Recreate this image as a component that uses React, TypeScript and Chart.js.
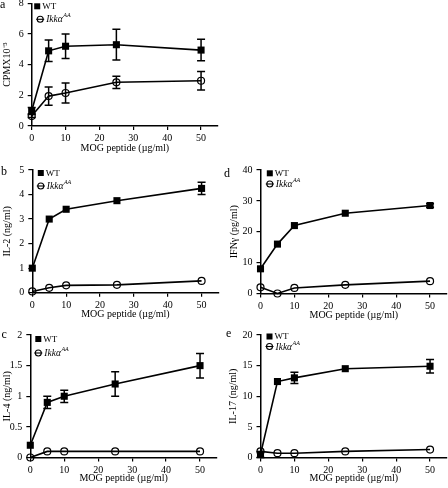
import React, { useEffect, useRef } from "react";
import { Chart, registerables } from "chart.js";

Chart.register(...registerables);

// ---------- data ----------
const doses = [0, 5, 10, 25, 50];
const xTicks = [0, 10, 20, 30, 40, 50];
const xTitle = "MOG peptide (µg/ml)";
const wtLabel = "WT";
const koLabel = "Ikkα";
const koSup = "AA";

const cpmWT = [1.0, 4.9, 5.2, 5.3, 4.95];
const cpmWTErr = [0.2, 0.7, 0.8, 1.0, 0.7];
const cpmKO = [0.65, 1.95, 2.15, 2.85, 2.95];
const cpmKOErr = [0.1, 0.6, 0.65, 0.4, 0.6];

const il2WT = [1.0, 3.0, 3.4, 3.75, 4.25];
const il2WTErr = [0, 0, 0, 0, 0.25];
const il2KO = [0.05, 0.2, 0.3, 0.32, 0.48];
const il2KOErr = [0, 0, 0, 0, 0];

const il4WT = [0.2, 0.9, 1.0, 1.2, 1.5];
const il4WTErr = [0, 0.1, 0.1, 0.2, 0.2];
const il4KO = [0, 0.1, 0.1, 0.1, 0.1];
const il4KOErr = [0, 0, 0, 0, 0];

const ifnWT = [8, 16, 22, 26, 28.5];
const ifnWTErr = [0, 0, 0, 0, 0.6];
const ifnKO = [2, 0, 1.8, 2.8, 4];
const ifnKOErr = [0, 0, 0, 0, 0];

const il17WT = [0.5, 12.4, 13, 14.5, 14.9];
const il17WTErr = [0.5, 0, 0.9, 0, 1.1];
const il17KO = [1.0, 0.7, 0.7, 1.0, 1.3];
const il17KOErr = [0, 0, 0, 0, 0];

const FONT = '"Liberation Serif", "Times New Roman", serif';

type Area = { l: number; t: number; r: number; b: number };
type PanelCfg = {
  letter: string;
  letterX: number;
  letterY: number;
  yTitle: string;
  yMax: number;
  yStep: number;
  wt: number[];
  wtErr: number[];
  ko: number[];
  koErr: number[];
  area: Area;
  yTitleX: number;
  xTitleY: number;
  legend: { sq: number; circ: number; y1: number; y2: number };
};

const panels: PanelCfg[] = [
  {
    letter: "a", letterX: 3, letterY: 5,
    yTitle: "CPMX10⁻³", yMax: 8, yStep: 2,
    wt: cpmWT, wtErr: cpmWTErr, ko: cpmKO, koErr: cpmKOErr,
    area: { l: 31.7, t: 3.3, r: 218, b: 126 }, yTitleX: 7, xTitleY: 148,
    legend: { sq: 5.5, circ: 8.5, y1: 3, y2: 16 },
  },
  {
    letter: "b", letterX: 4, letterY: 172,
    yTitle: "IL-2 (ng/ml)", yMax: 5, yStep: 1,
    wt: il2WT, wtErr: il2WTErr, ko: il2KO, koErr: il2KOErr,
    area: { l: 32.3, t: 170, r: 218.5, b: 292.7 }, yTitleX: 7, xTitleY: 314.5,
    legend: { sq: 8.5, circ: 8.5, y1: 3, y2: 16 },
  },
  {
    letter: "c", letterX: 4.5, letterY: 335,
    yTitle: "IL-4 (ng/ml)", yMax: 2, yStep: 0.5,
    wt: il4WT, wtErr: il4WTErr, ko: il4KO, koErr: il4KOErr,
    area: { l: 30.3, t: 335, r: 217, b: 457.5 }, yTitleX: 7.3, xTitleY: 478.5,
    legend: { sq: 8, circ: 8, y1: 4, y2: 18 },
  },
  {
    letter: "d", letterX: 227, letterY: 174,
    yTitle: "IFNγ (pg/ml)", yMax: 40, yStep: 10,
    wt: ifnWT, wtErr: ifnWTErr, ko: ifnKO, koErr: ifnKOErr,
    area: { l: 260.5, t: 170, r: 447, b: 293.5 }, yTitleX: 234, xTitleY: 315,
    legend: { sq: 9.3, circ: 9.3, y1: 3.3, y2: 14 },
  },
  {
    letter: "e", letterX: 229, letterY: 334,
    yTitle: "IL-17 (ng/ml)", yMax: 20, yStep: 5,
    wt: il17WT, wtErr: il17WTErr, ko: il17KO, koErr: il17KOErr,
    area: { l: 260.5, t: 335, r: 447, b: 457.5 }, yTitleX: 233.5, xTitleY: 478.5,
    legend: { sq: 9, circ: 9, y1: 1.5, y2: 11.5 },
  },
];

// ---------- plugins ----------
const errorBarPlugin = {
  id: "errorBars",
  beforeDatasetsDraw(chart: any, _args: any, opts: any) {
    const { ctx } = chart;
    const xs = chart.scales.x;
    const ys = chart.scales.y;
    const sets: { v: number[]; e: number[] }[] = opts.sets || [];
    ctx.save();
    ctx.strokeStyle = "#000";
    ctx.lineWidth = 1.5;
    sets.forEach((s) => {
      s.v.forEach((v, i) => {
        const e = s.e[i];
        if (!e) return;
        const px = xs.getPixelForValue(doses[i]);
        const y1 = ys.getPixelForValue(v - e);
        const y2 = ys.getPixelForValue(v + e);
        ctx.beginPath();
        ctx.moveTo(px, y1);
        ctx.lineTo(px, y2);
        ctx.moveTo(px - 4, y1);
        ctx.lineTo(px + 4, y1);
        ctx.moveTo(px - 4, y2);
        ctx.lineTo(px + 4, y2);
        ctx.stroke();
      });
    });
    ctx.restore();
  },
};

const legendPlugin = {
  id: "panelLegend",
  afterDraw(chart: any, _args: any, opts: any) {
    const { ctx, chartArea } = chart;
    const L = opts.pos;
    if (!L) return;
    ctx.save();
    ctx.fillStyle = "#000";
    ctx.strokeStyle = "#000";
    // WT row
    const sx = chartArea.left + L.sq;
    const sy = chartArea.top + L.y1;
    ctx.fillRect(sx - 3, sy - 3, 6, 6);
    ctx.textBaseline = "middle";
    ctx.textAlign = "left";
    ctx.font = `9px ${FONT}`;
    ctx.fillText(wtLabel, sx + 5, sy + 0.5);
    // KO row
    const cx = chartArea.left + L.circ;
    const cy = chartArea.top + L.y2;
    ctx.lineWidth = 1.1;
    ctx.beginPath();
    ctx.arc(cx, cy, 3, 0, Math.PI * 2);
    ctx.stroke();
    ctx.beginPath();
    ctx.moveTo(cx - 4, cy);
    ctx.lineTo(cx + 4, cy);
    ctx.stroke();
    ctx.font = `italic 9.5px ${FONT}`;
    ctx.fillText(koLabel, cx + 6, cy + 0.5);
    const w = ctx.measureText(koLabel).width;
    ctx.font = `italic 6px ${FONT}`;
    ctx.fillText(koSup, cx + 6 + w + 0.5, cy - 3.5);
    ctx.restore();
  },
};

// ---------- components ----------
function Panel({ p }: { p: PanelCfg }) {
  const ref = useRef<HTMLCanvasElement | null>(null);

  const rawL = p.yTitleX - 6;
  const canvasL = Math.floor(rawL);
  const canvasT = Math.floor(p.area.t - 12);
  const canvasR = Math.ceil(p.area.r + 6);
  const rawB = p.xTitleY + 6;
  const canvasB = Math.ceil(rawB);
  const w = canvasR - canvasL;
  const h = canvasB - canvasT;

  useEffect(() => {
    if (!ref.current) return;
    const axisCommon = {
      grid: {
        display: true,
        drawOnChartArea: false,
        drawTicks: true,
        tickLength: 4,
        color: "#000",
        lineWidth: 1.2,
      },
      border: { display: true, color: "#000", width: 1.5 },
    };
    const chart = new Chart(ref.current, {
      type: "line",
      data: {
        datasets: [
          {
            label: "Ikk",
            data: doses.map((d, i) => ({ x: d, y: p.ko[i] })),
            borderColor: "#000",
            borderWidth: 1.6,
            pointStyle: "circle",
            pointRadius: 3.5,
            pointBorderWidth: 1.2,
            pointBackgroundColor: "rgba(0,0,0,0)",
            pointBorderColor: "#000",
            clip: false,
          } as any,
          {
            label: "WT",
            data: doses.map((d, i) => ({ x: d, y: p.wt[i] })),
            borderColor: "#000",
            borderWidth: 1.6,
            pointStyle: "rect",
            pointRadius: 5,
            pointBorderWidth: 0,
            pointBackgroundColor: "#000",
            pointBorderColor: "#000",
            clip: false,
          } as any,
        ],
      },
      options: {
        animation: false,
        responsive: false,
        devicePixelRatio: 1,
        events: [],
        layout: {
          padding: {
            top: p.area.t - canvasT,
            right: canvasR - p.area.r,
            left: 0,
            bottom: 0,
          },
        },
        plugins: {
          legend: { display: false },
          tooltip: { enabled: false },
          errorBars: {
            sets: [
              { v: p.ko, e: p.koErr },
              { v: p.wt, e: p.wtErr },
            ],
          },
          panelLegend: { pos: p.legend },
        } as any,
        scales: {
          x: {
            type: "linear",
            min: 0,
            max: 55,
            afterFit: (s: any) => {
              s.height = canvasB - p.area.b;
            },
            afterBuildTicks: (s: any) => {
              s.ticks = xTicks.map((v) => ({ value: v }));
            },
            ticks: {
              color: "#000",
              font: { family: FONT, size: 10 },
              padding: 2.5,
              maxRotation: 0,
              callback: (v: any) => String(v),
            },
            title: {
              display: true,
              text: xTitle,
              color: "#000",
              font: { family: FONT, size: 10 },
              padding: { top: 0, bottom: canvasB - rawB },
            },
            ...axisCommon,
          } as any,
          y: {
            type: "linear",
            min: 0,
            max: p.yMax,
            afterFit: (s: any) => {
              s.width = p.area.l - canvasL;
            },
            ticks: {
              stepSize: p.yStep,
              color: "#000",
              font: { family: FONT, size: 10 },
              padding: 4,
              callback: (v: any) => String(v),
            },
            title: {
              display: true,
              text: p.yTitle,
              color: "#000",
              font: { family: FONT, size: 10 },
              padding: { top: rawL - canvasL, bottom: 0 },
            },
            ...axisCommon,
          } as any,
        },
      },
      plugins: [errorBarPlugin, legendPlugin],
    });
    return () => chart.destroy();
  }, []);

  return (
    <>
      <canvas
        ref={ref}
        width={w}
        height={h}
        style={{ position: "absolute", left: canvasL, top: canvasT, width: w, height: h }}
      />
      <div
        style={{
          position: "absolute",
          left: p.letterX - 3,
          top: p.letterY - 8,
          fontFamily: FONT,
          fontSize: 12,
          lineHeight: "14px",
          color: "#000",
        }}
      >
        {p.letter}
      </div>
    </>
  );
}

export default function App() {
  return (
    <div
      style={{
        position: "fixed",
        left: 0,
        top: 0,
        width: 448,
        height: 488,
        background: "#fff",
        overflow: "hidden",
      }}
    >
      {panels.map((p) => (
        <Panel key={p.letter} p={p} />
      ))}
    </div>
  );
}
